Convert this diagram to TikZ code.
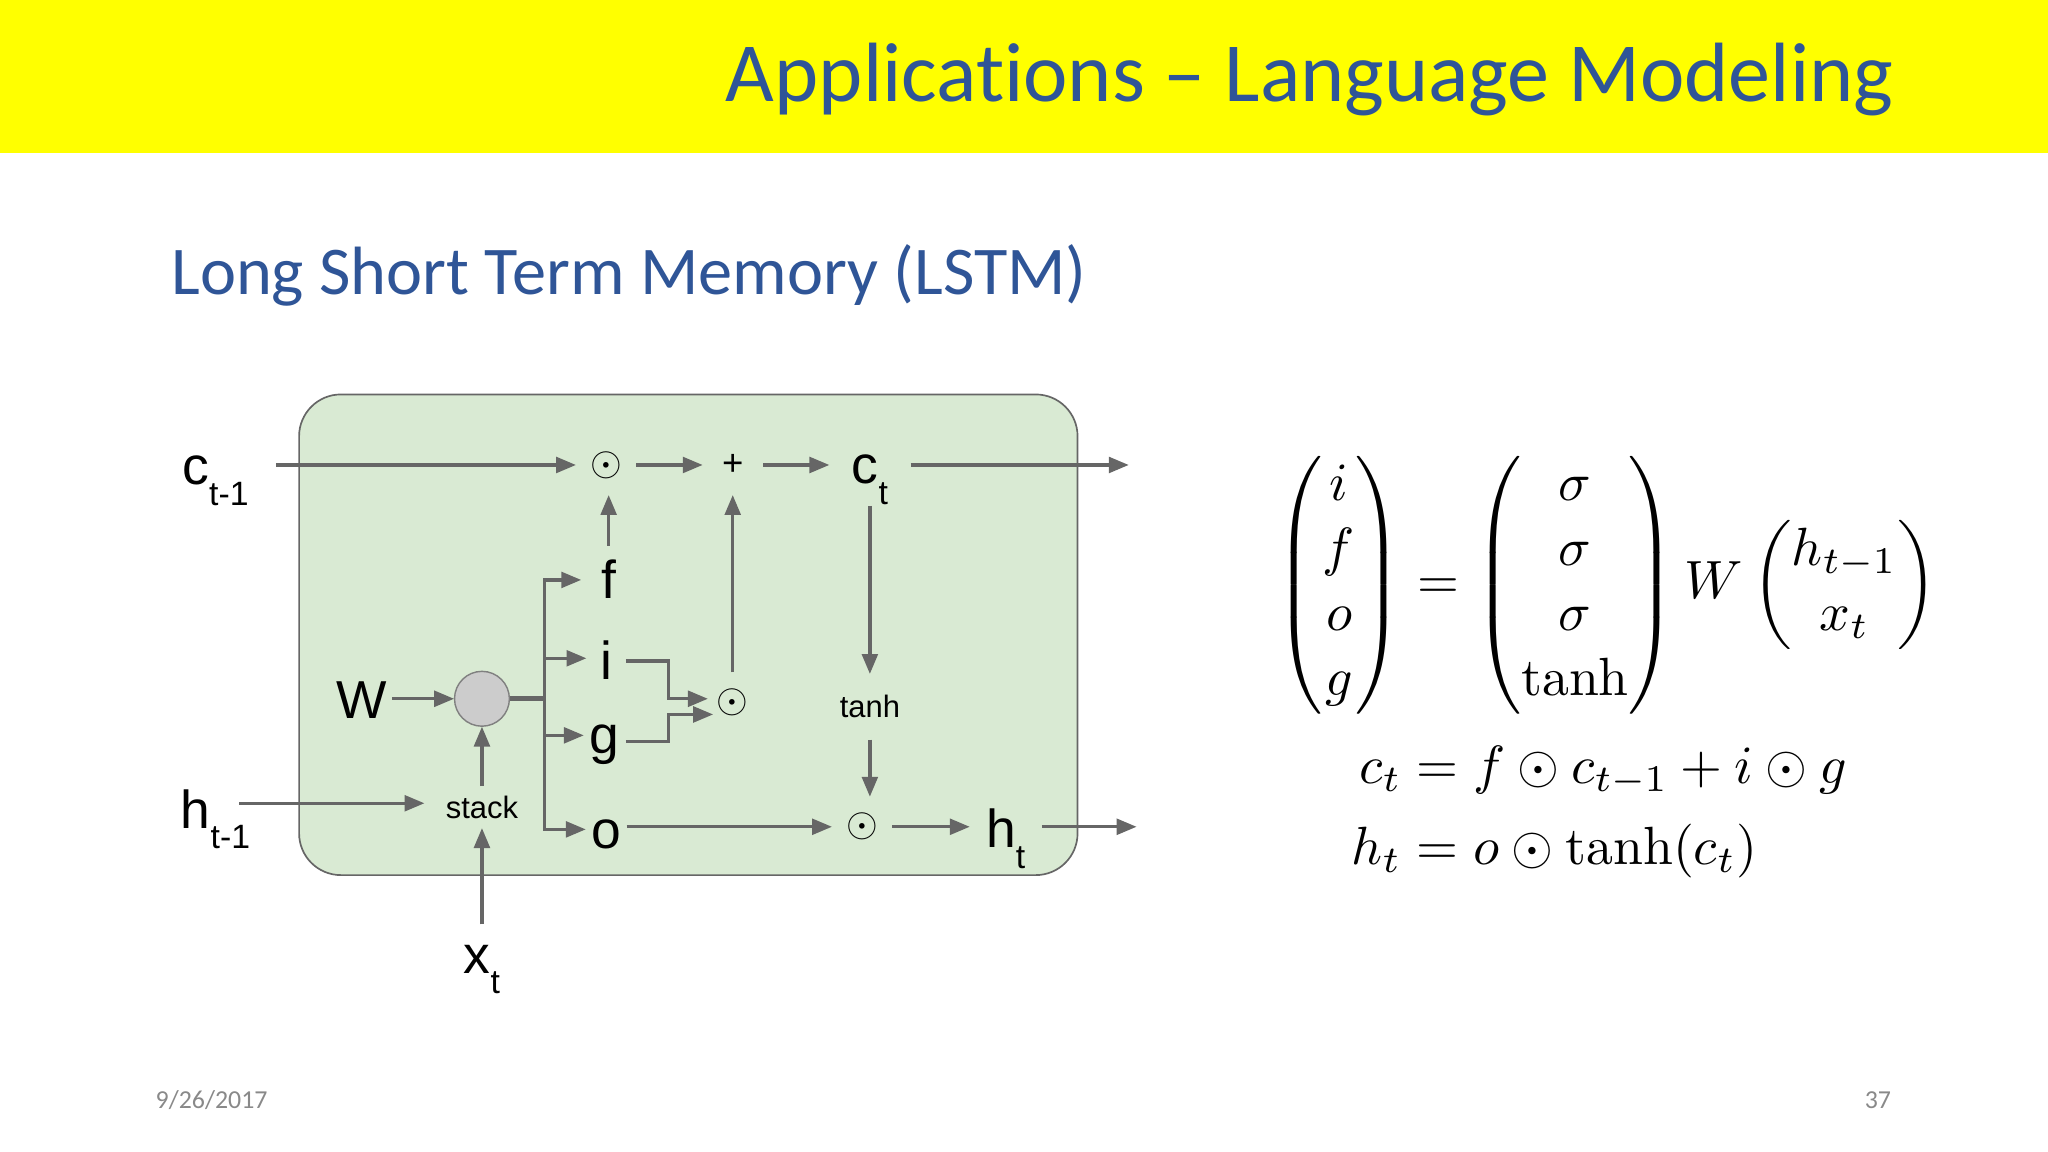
\documentclass[tikz,border=0pt]{standalone}
\usepackage{amsmath}
\usepackage{amssymb}
\usepackage{fontspec}
\usepackage{tikz}
\usetikzlibrary{calc}
\usetikzlibrary{arrows}
\newfontfamily\slidefont[Ligatures=NoCommon]{Carlito}
\newfontfamily\labelfont{Liberation Sans}
\newlength\unitpx
\setlength\unitpx{0.032653cm}
\definecolor{slideyellow}{RGB}{255,255,0}
\definecolor{slideblue}{HTML}{2F5597}
\definecolor{slidegray}{HTML}{898989}
\definecolor{boxgreen}{HTML}{D9EAD3}
\definecolor{flowgray}{HTML}{666666}
\newcommand{\lstmtext}[2][.5ex]{\smash{\makebox[0pt]{\raisebox{-#1}{#2}}}}
\newcommand{\lstmsub}[2]{#1\raisebox{-16\unitpx}{\fontsize{24}{24}\selectfont #2}}
\tikzset{
	flow/.style={draw=flowgray, line width=2.3pt, >=triangle 45, ->},
	dotnode/.style={inner sep=0pt, minimum width=46\unitpx, minimum height=46\unitpx},
	textnode/.style={inner sep=0pt, font=\labelfont\fontsize{38}{38}\selectfont},
	smallnode/.style={inner sep=0pt, font=\labelfont\fontsize{22}{22}\selectfont},
	mathnode/.style={inner sep=0pt, scale=3.83, font=\fontsize{10}{12.1}\selectfont},
}
\begin{document}
\begin{tikzpicture}[x=\unitpx, y=-\unitpx]
\useasboundingbox (0,0) rectangle (1568,882);
\fill [slideyellow] (0,0) rectangle (1568,117);
\node [inner sep=0pt, anchor=east, text=slideblue, font=\slidefont\fontsize{59.85}{59.85}\selectfont] (title) at (1450,61) {Applications – Language Modeling};
\node [inner sep=0pt, anchor=west, text=slideblue, font=\slidefont\fontsize{48.6}{48.6}\selectfont] (subtitle) at (131,211) {Long Short Term Memory (LSTM)};
\node [inner sep=0pt, anchor=west, text=slidegray, font=\slidefont\fontsize{18.4}{18.4}\selectfont] (date) at (119,842) {9/26/2017};
\node [inner sep=0pt, anchor=east, text=slidegray, font=\slidefont\fontsize{18.4}{18.4}\selectfont] (page) at (1448,842) {37};

\draw [fill=boxgreen, draw=flowgray, line width=1.2pt, rounded corners=32\unitpx] (229,302) rectangle (825,670);

\node [textnode, minimum width=92\unitpx, minimum height=30\unitpx] (ctm) at (165,356) {\lstmtext[15\unitpx]{\lstmsub{c}{t-1}}};
\node [textnode, minimum width=36\unitpx, minimum height=30\unitpx] (htm) at (165,615) {\lstmtext[19\unitpx]{\lstmsub{h}{t-1}}};
\node [textnode, minimum width=62\unitpx, minimum height=62\unitpx] (ct) at (666,356) {\lstmtext[14\unitpx]{\lstmsub{c}{t}}};
\node [textnode, minimum width=55\unitpx, minimum height=30\unitpx] (ht) at (770,633) {\lstmtext[16\unitpx]{\lstmsub{h}{t}}};
\node [textnode, minimum width=30\unitpx, minimum height=54\unitpx] (xt) at (369,735) {\lstmtext[10\unitpx]{\lstmsub{x}{t}}};
\node [textnode, minimum width=46\unitpx, minimum height=30\unitpx] (w) at (277,535) {\lstmtext[15\unitpx]{W}};
\node [textnode, minimum width=42\unitpx, minimum height=52\unitpx] (f) at (466,444) {\lstmtext[14\unitpx]{f}};
\node [textnode, minimum width=30\unitpx, minimum height=30\unitpx] (i) at (464,504) {\lstmtext[16\unitpx]{i}};
\node [textnode, minimum width=32\unitpx, minimum height=30\unitpx] (g) at (463,563) {\lstmtext[14\unitpx]{g}};
\node [textnode, minimum width=31\unitpx, minimum height=30\unitpx] (o) at (464,635) {\lstmtext[15\unitpx]{o}};

\node [dotnode] (dota) at (464,356) {\scalebox{2.9}{$\odot$}};
\node [dotnode] (dotb) at (561,538) {\scalebox{2.9}{$\odot$}};
\node [dotnode] (dotd) at (660,633) {\scalebox{2.9}{$\odot$}};
\node [dotnode, font=\labelfont\fontsize{26}{26}\selectfont] (plus) at (561,356) {\raisebox{-2\unitpx}{+}};

\node [circle, draw=gray, fill=black!20, line width=1pt, minimum size=42\unitpx, inner sep=0pt] (cell) at (369,535) {};
\node [smallnode, minimum width=88\unitpx, minimum height=32\unitpx] (stack) at (369,618) {stack};
\node [smallnode, minimum width=60\unitpx, minimum height=50\unitpx] (tanh) at (666,541) {tanh};
\coordinate (trunk) at (417,535);
\coordinate (cout) at (864,356);
\coordinate (hout) at (870,633);

\draw [flow] (ctm.east |- dota) -- (dota);
\draw [flow] (dota) -- (plus);
\draw [flow] (plus) -- (ct);
\draw [flow] (ct) -- (cout);
\draw [flow] (ct) -- (tanh);
\draw [flow] (tanh) -- (tanh |- dotd.north);
\draw [flow] (f) -- (f |- dota.south);
\draw [flow] (dotb) -- (plus);
\draw [flow] (w) -- (cell);
\draw [flow] (stack) -- (cell);
\draw [flow] (xt) -- (stack);
\draw [flow] (htm) -- (htm -| stack.west);
\draw [draw=flowgray, line width=3.5pt] (cell) -- (trunk);
\draw [flow] (trunk) |- (f);
\draw [flow] (trunk) |- (i);
\draw [flow] (trunk) |- (g);
\draw [flow] (trunk) |- (o);
\draw [flow] ($(i.east)+(0,2)$) -| ($(dotb.west)+(-26,-3)$) -- ($(dotb.west)+(4,-3)$);
\draw [flow] ($(g.east)+(0,5)$) -| ($(dotb.west)+(-26,9)$) -- ($(dotb.west)+(8,9)$);
\draw [flow] (o.east |- dotd) -- (dotd);
\draw [flow] (dotd) -- (ht);
\draw [flow] (ht) -- (hout);

\node [mathnode, anchor=west] (eqmat) at (976,448) {$\begin{pmatrix} i\\ f\\ o\\ g \end{pmatrix} = \begin{pmatrix} \sigma\\ \sigma\\ \sigma\\ \tanh \end{pmatrix} W \begin{pmatrix} h_{t-1}\\ x_t \end{pmatrix}$};
\node [mathnode, anchor=base west] (eqc) at (1040,600) {$c_t = f \odot c_{t-1} + i \odot g$};
\node [mathnode, anchor=base west] (eqh) at (1034,662) {$h_t = o \odot \tanh(c_t)$};
\end{tikzpicture}
\end{document}
